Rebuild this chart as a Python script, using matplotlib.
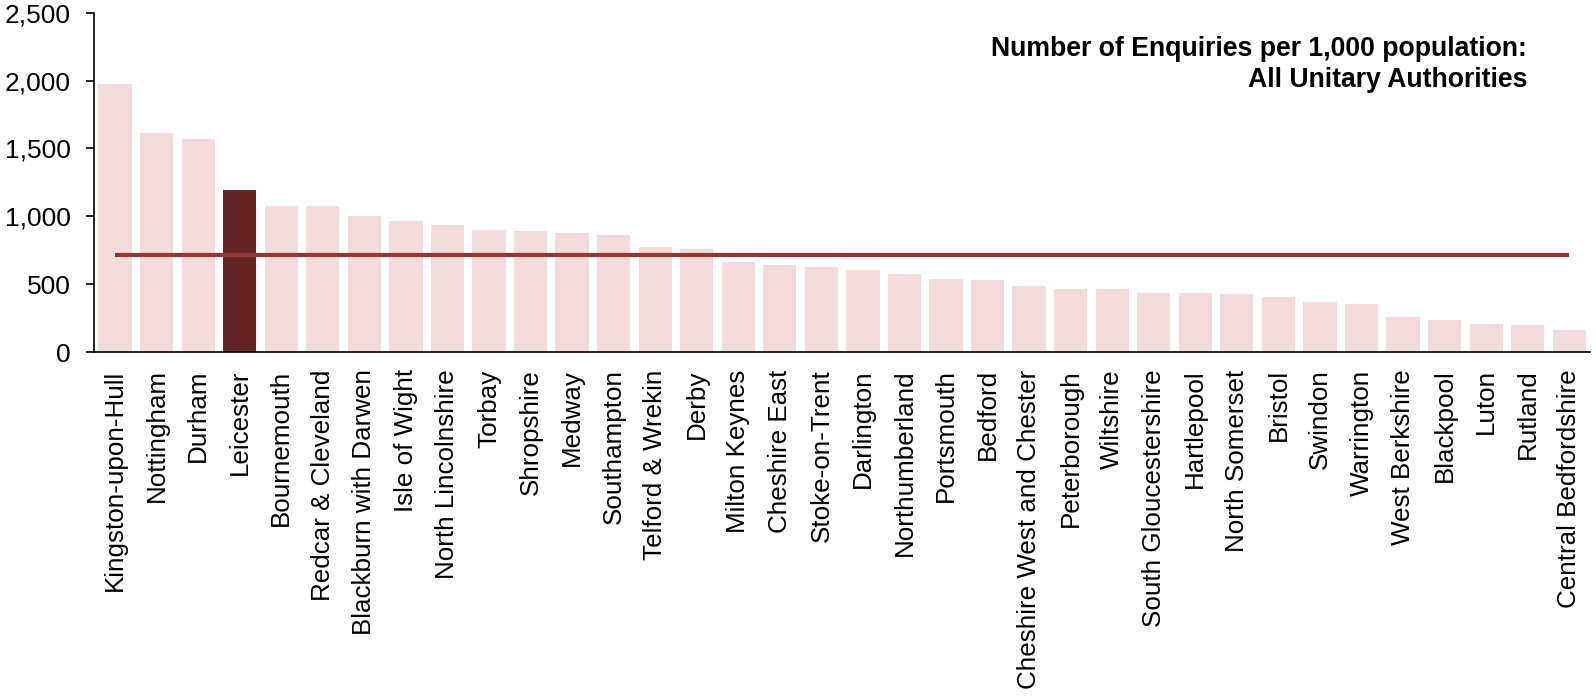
import matplotlib
matplotlib.use("Agg")
import matplotlib.pyplot as plt
import numpy as np

plt.rcParams['font.family'] = ['Liberation Sans', 'DejaVu Sans']

# Количество обращений на 1000 жителей по унитарным округам
authorities = [
    'Kingston-upon-Hull', 'Nottingham', 'Durham', 'Leicester', 'Bournemouth',
    'Redcar & Cleveland', 'Blackburn with Darwen', 'Isle of Wight',
    'North Lincolnshire', 'Torbay', 'Shropshire', 'Medway', 'Southampton',
    'Telford & Wrekin', 'Derby', 'Milton Keynes', 'Cheshire East',
    'Stoke-on-Trent', 'Darlington', 'Northumberland', 'Portsmouth', 'Bedford',
    'Cheshire West and Chester', 'Peterborough', 'Wiltshire',
    'South Gloucestershire', 'Hartlepool', 'North Somerset', 'Bristol',
    'Swindon', 'Warrington', 'West Berkshire', 'Blackpool', 'Luton',
    'Rutland', 'Central Bedfordshire',
]
enquiries = [
    1975, 1614, 1570, 1194, 1076, 1076, 1002, 965, 936, 899, 892, 877, 862,
    774, 759, 663, 641, 626, 604, 575, 538, 531, 486, 464, 464, 435, 435,
    427, 405, 368, 354, 258, 236, 206, 199, 162,
]
average = 715
highlight = 'Leicester'
title_lines = ['Number of Enquiries per 1,000 population:', 'All Unitary Authorities']

W, H = 1596, 699
fig = plt.figure(figsize=(W / 100, H / 100), dpi=100)
ax = fig.add_axes([94.3 / W, 1 - 352 / H, (1590 - 94.3) / W, (352 - 12.7) / H])

x = np.arange(len(authorities))
colors = ['#632523' if a == highlight else '#F2DCDB' for a in authorities]
ax.bar(x, enquiries, width=0.8, color=colors, zorder=2)

# Средняя линия по всем округам
ax.plot([x[0], x[-1]], [average, average], color='#943634', lw=3, zorder=3,
        solid_capstyle='butt')

ax.set_xlim(-0.5, len(authorities) - 0.5)
ax.set_ylim(0, 2500)
ax.set_yticks(np.arange(0, 2501, 500))
ax.set_yticklabels([f'{v:,}' for v in range(0, 2501, 500)], fontsize=19)
ax.set_xticks(x)
ax.set_xticklabels(authorities, rotation=90, fontsize=18.7, va='top', ha='center')
ax.tick_params(axis='x', length=0, pad=12.5)
ax.tick_params(axis='y', length=6, width=1.2, pad=11)

for side in ['top', 'right']:
    ax.spines[side].set_visible(False)
for side in ['left', 'bottom']:
    ax.spines[side].set_linewidth(1.2)

# Заголовок в правом верхнем углу, по строкам
for line, y in zip(title_lines, [(352 - 56) / 339.3, (352 - 86.7) / 339.3]):
    ax.text((1527 - 94.3) / (1590 - 94.3), y, line, transform=ax.transAxes,
            ha='right', va='baseline', fontsize=19.2, fontweight='bold')

fig.savefig('out.png', dpi=100)
